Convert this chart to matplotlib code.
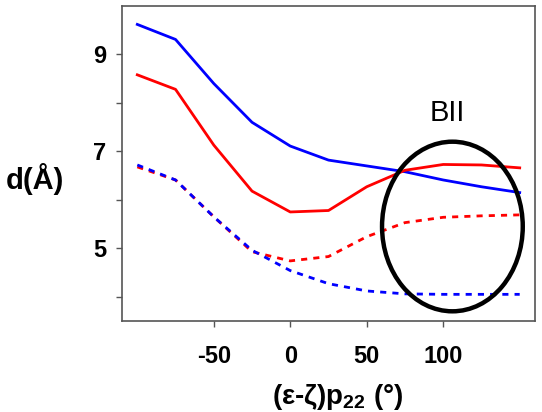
import matplotlib
matplotlib.use("Agg")
import matplotlib.pyplot as plt
from matplotlib.patches import Ellipse

plt.rcParams['font.family'] = ['Liberation Sans', 'DejaVu Sans']
plt.rcParams['mathtext.fontset'] = 'custom'
plt.rcParams['mathtext.rm'] = 'Liberation Sans'
plt.rcParams['mathtext.bf'] = 'Liberation Sans:bold'

x = [-100, -75, -50, -25, 0, 25, 50, 75, 100, 125, 150]
blue_solid = [9.62, 9.31, 8.40, 7.60, 7.11, 6.82, 6.70, 6.58, 6.41, 6.27, 6.15]
red_solid = [8.58, 8.28, 7.13, 6.18, 5.75, 5.78, 6.27, 6.61, 6.73, 6.72, 6.66]
red_dashed = [6.68, 6.41, 5.65, 4.93, 4.74, 4.83, 5.24, 5.53, 5.64, 5.67, 5.69]
blue_dashed = [6.72, 6.41, 5.65, 4.96, 4.54, 4.27, 4.12, 4.06, 4.05, 4.05, 4.05]

xticks = [-50, 0, 50, 100]
xticklabels = ['-50', '0', '50', '100']
yticks = [5, 7, 9]
yminor = [4, 6, 8]

fig = plt.figure(figsize=(5.42, 4.12), dpi=100)
ax = fig.add_axes([122/542, 1 - 321/412, (535-122)/542, (321-6)/412])

ax.plot(x, blue_solid, color='#0000ff', lw=2)
ax.plot(x, red_solid, color='#ff0000', lw=2)
ax.plot(x, red_dashed, color='#ff0000', lw=2, dashes=(2.2, 2.2))
ax.plot(x, blue_dashed, color='#0000ff', lw=2, dashes=(2.2, 2.2))

ell = Ellipse((106, 5.45), 92, 3.5, fill=False, edgecolor='black', lw=3.2, zorder=5)
ax.add_patch(ell)
ax.text(103, 7.79, 'BII', fontsize=21, ha='center', va='center')

ax.set_xlim(-110, 160)
ax.set_ylim(3.5, 10.0)
ax.set_xticks(xticks)
ax.set_xticklabels(xticklabels, fontsize=17, fontweight='bold')
ax.set_yticks(yticks)
ax.set_yticklabels([str(v) for v in yticks], fontsize=17, fontweight='bold')
ax.set_yticks(yminor, minor=True)
ax.tick_params(axis='both', which='both', direction='out', length=4.5, color='#555555', width=1)
ax.tick_params(axis='x', pad=13)
ax.tick_params(axis='y', pad=7)
for s in ax.spines.values():
    s.set_color('#555555')
    s.set_linewidth(1.2)

ax.set_xlabel(r'(ε-ζ)p$_{\mathbf{22}}$ (°)', fontsize=20, fontweight='bold')
ax.xaxis.set_label_coords(0.523, -0.195)
ax.set_ylabel('d(Å)', fontsize=21, fontweight='bold', rotation=0, va='center', ha='center')
ax.yaxis.set_label_coords(-0.21, 0.45)

fig.savefig('out.png', dpi=100)
